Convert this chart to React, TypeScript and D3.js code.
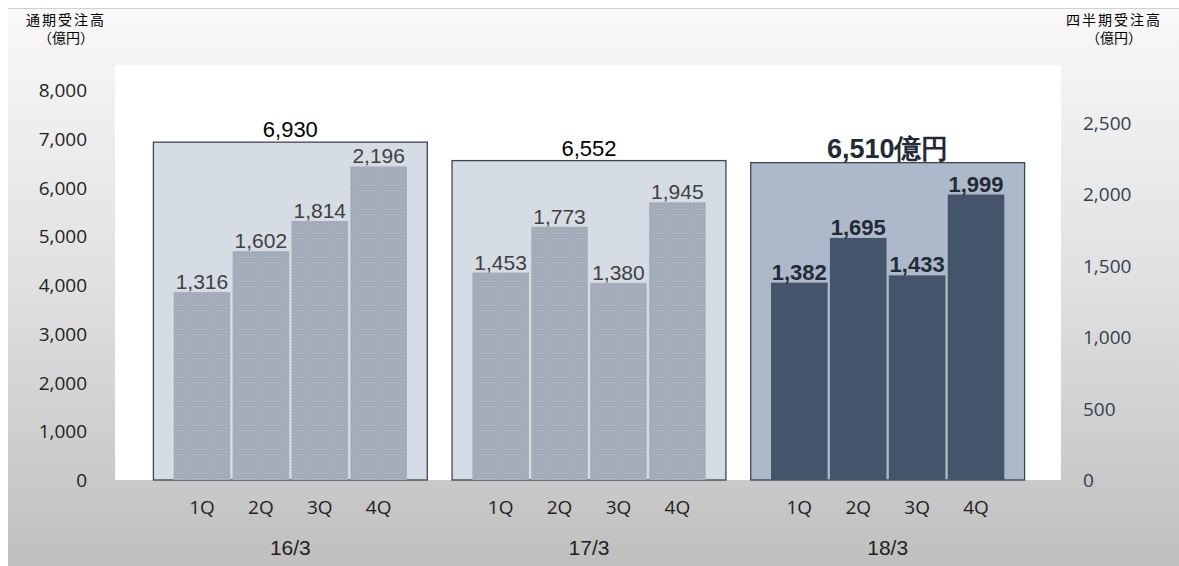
import React from "react";
import * as d3 from "d3";

const groups = ["16/3", "17/3", "18/3"];
const quarters = ["1Q", "2Q", "3Q", "4Q"];
const annualTotals = [6930, 6552, 6510];
const totalLabels = ["6,930", "6,552", "6,510億円"];
const quarterValues = [
  [1316, 1602, 1814, 2196],
  [1453, 1773, 1380, 1945],
  [1382, 1695, 1433, 1999],
];
const leftTicks = [0, 1000, 2000, 3000, 4000, 5000, 6000, 7000, 8000];
const rightTicks = [0, 500, 1000, 1500, 2000, 2500];

const W = 1179;
const H = 566;
const fmt = d3.format(",");

export default function App() {
  const yL = d3.scaleLinear().domain([0, 8000]).range([480, 90]);
  const yR = d3.scaleLinear().domain([0, 2500]).range([480, 123]);
  const x = d3.scaleBand<string>().domain(groups).range([141, 1037]).paddingInner(0.083).paddingOuter(0.0415);
  const xq = d3.scaleBand<string>().domain(quarters).range([-119, 119]).padding(0.04);
  const tickFont = "'Open Sans', 'DejaVu Sans', sans-serif";
  const labFont = "'Liberation Sans', Arial, sans-serif";
  const cjk = "'Noto Sans CJK JP', sans-serif";

  return (
    <svg width={W} height={H} style={{ position: "absolute", left: 0, top: 0 }}>
      <defs>
        <linearGradient id="bg" x1="0" y1="0" x2="0" y2="1">
          <stop offset="0" stopColor="#f9f9f9" />
          <stop offset="0.5" stopColor="#e0e0e0" />
          <stop offset="1" stopColor="#bfbfbf" />
        </linearGradient>
        <pattern id="dots" width="3" height="3" patternUnits="userSpaceOnUse">
          <rect width="3" height="3" fill="#a9b0bd" />
          <rect x="0" y="0" width="1" height="1" fill="#959dab" />
          <rect x="1.5" y="1.5" width="1" height="1" fill="#9aa1ae" />
        </pattern>
      </defs>
      <rect x={8} y={8} width={W - 8} height={H - 8} fill="url(#bg)" />
      <line x1={8} x2={W} y1={8.5} y2={8.5} stroke="#d0d0d0" />
      <rect x={115} y={65} width={946} height={415} fill="#ffffff" />

      {groups.map((g, gi) => {
        const c = (x(g) as number) + x.bandwidth() / 2;
        const last = gi === 2;
        const top = yL(annualTotals[gi]);
        return (
          <g key={g}>
            <rect
              x={x(g) as number}
              y={top}
              width={x.bandwidth()}
              height={480 - top}
              fill={last ? "#adb9ca" : "#d6dce4"}
              stroke="#3d4653"
              strokeWidth={1.3}
            />
            <text
              x={c}
              y={top - 5}
              textAnchor="middle"
              fontFamily={labFont}
              fontSize={last ? 27 : 22}
              fontWeight={last ? "bold" : "normal"}
              fill={last ? "#222a35" : "#000"}
            >
              {totalLabels[gi]}
            </text>
            {quarters.map((q, qi) => {
              const v = quarterValues[gi][qi];
              const bx = c + (xq(q) as number);
              const by = yR(v);
              return (
                <g key={q}>
                  <rect
                    x={bx}
                    y={by}
                    width={xq.bandwidth()}
                    height={480 - by}
                    fill={last ? "#44546a" : "url(#dots)"}
                  />
                  <text
                    x={bx + xq.bandwidth() / 2}
                    y={by - 3}
                    textAnchor="middle"
                    fontFamily={labFont}
                    fontSize={last ? 22 : 21}
                    fontWeight={last ? "bold" : "normal"}
                    fill={last ? "#222a35" : "#404040"}
                  >
                    {fmt(v)}
                  </text>
                  <text
                    x={bx + xq.bandwidth() / 2}
                    y={514}
                    textAnchor="middle"
                    fontFamily={tickFont}
                    fontSize={19}
                    fill="#1f1f1f"
                  >
                    {q}
                  </text>
                </g>
              );
            })}
            <text x={c} y={555} textAnchor="middle" fontFamily={labFont} fontSize={21} fill="#1f1f1f">
              {g}
            </text>
          </g>
        );
      })}

      {leftTicks.map((t) => (
        <text key={t} x={87} y={yL(t) + 7} textAnchor="end" fontFamily={tickFont} fontSize={19} fill="#1f1f1f">
          {fmt(t)}
        </text>
      ))}
      {rightTicks.map((t) => (
        <text key={t} x={1083} y={yR(t) + 7} textAnchor="start" fontFamily={tickFont} fontSize={19} fill="#333f4f">
          {fmt(t)}
        </text>
      ))}

      <text x={66} y={25} textAnchor="middle" fontFamily={cjk} fontSize={14} letterSpacing={2} fill="#000">通期受注高</text>
      <text x={66} y={43} textAnchor="middle" fontFamily={cjk} fontSize={14} fill="#000">（億円）</text>
      <text x={1114} y={25} textAnchor="middle" fontFamily={cjk} fontSize={14} letterSpacing={2} fill="#000">四半期受注高</text>
      <text x={1114} y={43} textAnchor="middle" fontFamily={cjk} fontSize={14} fill="#000">（億円）</text>
    </svg>
  );
}
